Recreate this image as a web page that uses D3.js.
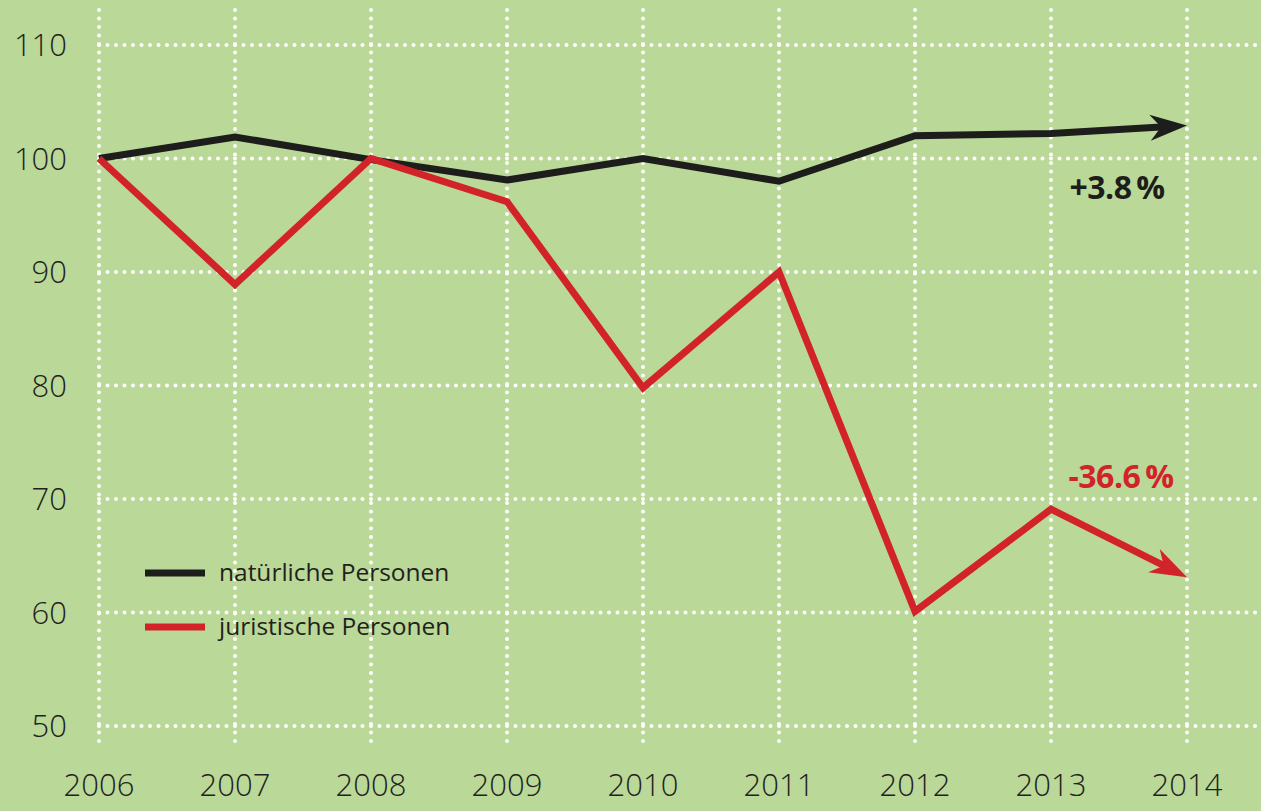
<!DOCTYPE html>
<html>
<head>
<meta charset="utf-8">
<script src="https://cdn.jsdelivr.net/npm/d3@7"></script>
<style>
  html, body { margin: 0; padding: 0; background: #bad897; }
  svg { display: block; }
  .tick-label { font-family: "Open Sans", sans-serif; font-weight: 300; font-size: 31px; fill: #231f20; }
  .legend-label { font-family: "Open Sans", sans-serif; font-weight: 400; font-size: 24.5px; fill: #231f20; }
  .change-label { font-family: "Open Sans", sans-serif; font-weight: 700; font-size: 32px; letter-spacing: -0.5px; }
</style>
</head>
<body>
<svg id="chart"></svg>
<script>
// data (index, 2006 = 100)
var years = [2006, 2007, 2008, 2009, 2010, 2011, 2012, 2013, 2014];
var natuerliche = [100, 101.9, 99.9, 98.1, 100, 98.0, 102.0, 102.2, 102.9];
var juristische = [100, 88.9, 100, 96.2, 79.8, 90, 60.1, 69.1, 63.1];
var yTicks = [50, 60, 70, 80, 90, 100, 110];
var seriesNames = ["natürliche Personen", "juristische Personen"];
var seriesColors = ["#1d1d1b", "#d2232a"];
var changeLabels = ["+3.8\u2009%", "-36.6\u2009%"];

var W = 1261, H = 811;
var svg = d3.select("#chart").attr("width", W).attr("height", H);

svg.append("rect").attr("width", W).attr("height", H).attr("fill", "#bad897");

var x = d3.scaleLinear().domain([2006, 2014]).range([99, 1187]);
var y = d3.scaleLinear().domain([50, 110]).range([726, 45]);

// dotted grid
var grid = svg.append("g")
  .attr("stroke", "#fff")
  .attr("stroke-width", 4)
  .attr("stroke-linecap", "round")
  .attr("stroke-dasharray", "0 8.5");

grid.selectAll(".hgrid")
  .data(yTicks)
  .enter().append("line")
  .attr("class", "hgrid")
  .attr("x1", x(2006)).attr("x2", W)
  .attr("y1", function(d) { return y(d); })
  .attr("y2", function(d) { return y(d); });

grid.selectAll(".vgrid")
  .data(years)
  .enter().append("line")
  .attr("class", "vgrid")
  .attr("x1", function(d) { return x(d); })
  .attr("x2", function(d) { return x(d); })
  .attr("y1", 10).attr("y2", 742);

// tick labels
svg.selectAll(".ylab")
  .data(yTicks)
  .enter().append("text")
  .attr("class", "tick-label")
  .attr("x", 67)
  .attr("y", function(d) { return y(d) + 11; })
  .attr("text-anchor", "end")
  .text(function(d) { return d; });

svg.selectAll(".xlab")
  .data(years)
  .enter().append("text")
  .attr("class", "tick-label")
  .attr("x", function(d) { return x(d); })
  .attr("y", 796)
  .attr("text-anchor", "middle")
  .text(function(d) { return d; });

// lines with arrow heads
function drawSeries(values, color) {
  var pts = values.map(function(v, i) { return [x(years[i]), y(v)]; });
  var n = pts.length;
  var tip = pts[n - 1], prev = pts[n - 2];
  var ang = Math.atan2(tip[1] - prev[1], tip[0] - prev[0]);
  var back = 22;
  var linePts = pts.slice(0, n - 1);
  linePts.push([tip[0] - back * Math.cos(ang), tip[1] - back * Math.sin(ang)]);

  svg.append("path")
    .datum(linePts)
    .attr("fill", "none")
    .attr("stroke", color)
    .attr("stroke-width", 7)
    .attr("stroke-linejoin", "miter")
    .attr("d", d3.line());

  svg.append("path")
    .attr("d", "M0,0 L-37,-13 L-26,0 L-37,13 Z")
    .attr("fill", color)
    .attr("transform", "translate(" + tip[0] + "," + tip[1] + ") rotate(" + (ang * 180 / Math.PI) + ")");
}

drawSeries(natuerliche, seriesColors[0]);
drawSeries(juristische, seriesColors[1]);

// change labels
svg.append("text")
  .attr("class", "change-label")
  .attr("x", 1117).attr("y", 199)
  .attr("text-anchor", "middle")
  .attr("fill", seriesColors[0])
  .text(changeLabels[0]);

svg.append("text")
  .attr("class", "change-label")
  .attr("x", 1121).attr("y", 488)
  .attr("text-anchor", "middle")
  .attr("fill", seriesColors[1])
  .text(changeLabels[1]);

// legend
var legend = svg.selectAll(".legend")
  .data(seriesNames)
  .enter().append("g")
  .attr("class", "legend")
  .attr("transform", function(d, i) { return "translate(145," + (573 + i * 54) + ")"; });

legend.append("rect")
  .attr("x", 0).attr("y", -3.5)
  .attr("width", 60).attr("height", 7)
  .attr("fill", function(d, i) { return seriesColors[i]; });

legend.append("text")
  .attr("class", "legend-label")
  .attr("x", 74).attr("y", 8)
  .text(function(d) { return d; });
</script>
</body>
</html>
